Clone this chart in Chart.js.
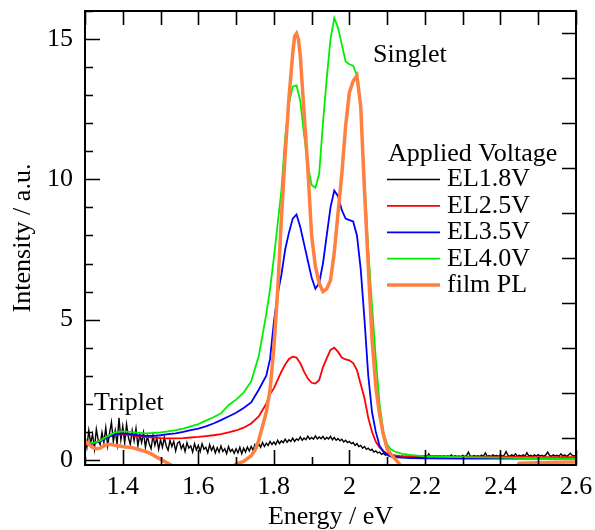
<!DOCTYPE html>
<html>
<head>
<meta charset="utf-8">
<script src="https://cdn.jsdelivr.net/npm/chart.js@4.4.1/dist/chart.umd.min.js"></script>
<style>
  body { margin: 0; background: #fff; }
  canvas { display: block; }
</style>
</head>
<body>
<canvas id="elChart" width="595" height="530"></canvas>
<script>
// --- data ---
const seriesLabels = ['EL1.8V', 'EL2.5V', 'EL3.5V', 'EL4.0V', 'film PL'];

// EL1.8V (noisy) sampled every 0.005 eV from 1.30 to 2.60
const el18Start = 1.3;
const el18Step = 0.005;
const el18Values = [
  0.85, 0.45, 1.05, 0.60, 0.92, 0.40, 1.10, 0.70, 0.55, 0.98,
  0.62, 1.15, 0.50, 0.95, 1.35, 0.65, 1.05, 0.55, 1.50, 0.72,
  1.20, 0.60, 1.28, 0.80, 0.55, 1.05, 0.68, 1.12, 0.50, 0.90,
  0.62, 0.98, 0.45, 0.85, 0.58, 0.40, 0.88, 0.52, 0.78, 0.38,
  0.72, 0.45, 0.80, 0.50, 0.35, 0.70, 0.48, 0.66, 0.32, 0.60,
  0.65, 0.40, 0.55, 0.30, 0.62, 0.42, 0.50, 0.28, 0.58, 0.36,
  0.52, 0.30, 0.58, 0.38, 0.45, 0.26, 0.55, 0.34, 0.48, 0.25,
  0.44, 0.28, 0.50, 0.30, 0.40, 0.22, 0.48, 0.30, 0.38, 0.24,
  0.40, 0.25, 0.45, 0.22, 0.42, 0.28, 0.46, 0.32, 0.48, 0.35,
  0.55, 0.42, 0.58, 0.45, 0.62, 0.48, 0.60, 0.52, 0.66, 0.55,
  0.64, 0.55, 0.70, 0.58, 0.68, 0.62, 0.74, 0.63, 0.72, 0.66,
  0.78, 0.66, 0.75, 0.70, 0.82, 0.70, 0.78, 0.72, 0.85, 0.74,
  0.80, 0.74, 0.86, 0.75, 0.82, 0.76, 0.84, 0.73, 0.80, 0.75,
  0.84, 0.72, 0.80, 0.70, 0.76, 0.68, 0.74, 0.64, 0.70, 0.62,
  0.66, 0.58, 0.62, 0.52, 0.58, 0.48, 0.52, 0.42, 0.48, 0.38,
  0.42, 0.34, 0.38, 0.28, 0.32, 0.25, 0.28, 0.20, 0.24, 0.17,
  0.22, 0.15, 0.18, 0.12, 0.16, 0.10, 0.15, 0.09, 0.14, 0.10,
  0.13, 0.09, 0.14, 0.10, 0.12, 0.08, 0.13, 0.10, 0.12, 0.09,
  0.14, 0.10, 0.22, 0.11, 0.13, 0.10, 0.15, 0.11, 0.14, 0.10,
  0.15, 0.11, 0.14, 0.12, 0.18, 0.11, 0.15, 0.12, 0.14, 0.11,
  0.16, 0.12, 0.15, 0.28, 0.14, 0.12, 0.16, 0.13, 0.15, 0.12,
  0.17, 0.13, 0.25, 0.13, 0.16, 0.12, 0.18, 0.14, 0.16, 0.13,
  0.18, 0.14, 0.17, 0.30, 0.16, 0.13, 0.18, 0.14, 0.22, 0.13,
  0.17, 0.14, 0.18, 0.13, 0.26, 0.14, 0.17, 0.13, 0.18, 0.14,
  0.19, 0.14, 0.17, 0.13, 0.18, 0.28, 0.16, 0.13, 0.18, 0.14,
  0.17, 0.13, 0.22, 0.14, 0.18, 0.13, 0.17, 0.24, 0.16, 0.14,
  0.17
];

// shared energy grid for EL2.5V / EL3.5V / EL4.0V
const elEnergy = [
  1.30, 1.32, 1.34, 1.36, 1.38, 1.40, 1.42, 1.44, 1.46, 1.48,
  1.50, 1.52, 1.54, 1.56, 1.58, 1.60, 1.62, 1.64, 1.66, 1.68,
  1.70, 1.72, 1.74, 1.76, 1.78, 1.79, 1.80, 1.81, 1.82, 1.83,
  1.84, 1.85, 1.86, 1.87, 1.88, 1.89, 1.90, 1.91, 1.92, 1.93,
  1.94, 1.95, 1.96, 1.97, 1.98, 1.99, 2.00, 2.01, 2.02, 2.03,
  2.04, 2.05, 2.06, 2.07, 2.08, 2.09, 2.10, 2.11, 2.12, 2.14,
  2.16, 2.20, 2.30, 2.40, 2.50, 2.60
];
const el25Values = [
  0.55, 0.58, 0.70, 0.85, 0.90, 0.90, 0.88, 0.85, 0.82, 0.80,
  0.78, 0.77, 0.77, 0.78, 0.80, 0.82, 0.85, 0.88, 0.92, 0.98,
  1.05, 1.15, 1.30, 1.55, 2.00, 2.35, 2.55, 2.85, 3.15, 3.40,
  3.60, 3.68, 3.65, 3.45, 3.15, 2.90, 2.75, 2.72, 2.85, 3.30,
  3.62, 3.92, 4.00, 3.85, 3.65, 3.58, 3.55, 3.45, 3.20, 2.70,
  2.20, 1.50, 1.00, 0.65, 0.45, 0.32, 0.22, 0.18, 0.16, 0.13,
  0.13, 0.14, 0.12, 0.12, 0.10, 0.10
];
const el35Values = [
  0.62, 0.58, 0.66, 0.80, 0.92, 0.95, 0.92, 0.88, 0.86, 0.86,
  0.88, 0.92, 0.95, 1.00, 1.06, 1.12, 1.20, 1.30, 1.42, 1.55,
  1.68, 1.85, 2.05, 2.50, 3.00, 3.60, 4.90, 5.90, 6.60, 7.50,
  8.10, 8.60, 8.75, 8.30, 7.70, 7.10, 6.50, 6.10, 6.30, 7.00,
  8.00, 9.00, 9.60, 9.40, 8.90, 8.60, 8.55, 8.50, 8.00, 6.80,
  5.00, 3.00, 1.70, 1.00, 0.50, 0.30, 0.18, 0.12, 0.10, 0.08,
  0.07, 0.06, 0.05, 0.05, 0.05, 0.05
];
const el40Values = [
  0.65, 0.60, 0.68, 0.85, 0.98, 1.02, 1.00, 0.97, 0.95, 0.96,
  0.98, 1.02, 1.06, 1.12, 1.20, 1.28, 1.40, 1.52, 1.66, 1.95,
  2.15, 2.40, 2.80, 3.70, 5.20, 6.10, 7.20, 8.40, 9.60, 11.5,
  12.7, 13.3, 13.35, 12.8, 11.6, 10.5, 9.80, 9.70, 10.2, 12.0,
  13.6, 15.0, 15.75, 15.4, 14.8, 14.2, 14.1, 14.05, 13.7, 12.5,
  10.0, 7.50, 5.50, 3.60, 2.00, 1.00, 0.55, 0.38, 0.30, 0.22,
  0.18, 0.13, 0.10, 0.08, 0.06, 0.05
];

// film PL, own energy grid
const plEnergy = [
  1.30, 1.31, 1.32, 1.33, 1.34, 1.35, 1.36, 1.37, 1.38, 1.39,
  1.40, 1.41, 1.42, 1.43, 1.44, 1.45, 1.46, 1.47, 1.48, 1.49,
  1.50, 1.51, 1.52, 1.53, 1.55, 1.60, 1.65, 1.68, 1.70, 1.72,
  1.73, 1.74, 1.75, 1.76, 1.77, 1.78, 1.79, 1.80, 1.81, 1.82,
  1.83, 1.84, 1.85, 1.855, 1.86, 1.865, 1.87, 1.88, 1.89, 1.90,
  1.91, 1.92, 1.93, 1.94, 1.95, 1.96, 1.97, 1.98, 1.99, 2.00,
  2.01, 2.02, 2.03, 2.04, 2.05, 2.06, 2.07, 2.08, 2.09, 2.10,
  2.11, 2.12, 2.13, 2.14, 2.20, 2.30, 2.40, 2.44, 2.45, 2.50,
  2.55, 2.60
];
const plValues = [
  0.68, 0.55, 0.45, 0.40, 0.42, 0.50, 0.55, 0.55, 0.52, 0.50,
  0.48, 0.46, 0.45, 0.42, 0.38, 0.34, 0.30, 0.25, 0.18, 0.10,
  0.03, -0.05, -0.12, -0.20, -0.35, -0.50, -0.50, -0.35, -0.15, -0.05,
  0.05, 0.15, 0.35, 0.70, 1.20, 1.70, 2.50, 4.00, 6.00, 8.60,
  10.9, 12.9, 14.5, 15.1, 15.2, 15.0, 14.4, 12.4, 10.4, 8.00,
  6.90, 6.30, 6.00, 6.10, 6.40, 7.40, 8.80, 10.2, 11.9, 13.1,
  13.5, 13.7, 12.6, 9.60, 6.90, 4.30, 2.60, 1.60, 0.90, 0.40,
  0.20, 0.05, -0.10, -0.30, -0.50, -0.50, -0.40, -0.30, -0.12, -0.10,
  -0.08, -0.07
];

const seriesColors = ['#000000', '#ff0000', '#0000ff', '#00ee00', '#ff8040'];
const seriesWidths = [1.4, 1.8, 1.8, 1.8, 3.5];
const seriesOrder = [5, 4, 3, 2, 1]; // black underneath, film PL on top

// axis ticks
const xTickLabels = [1.4, 1.6, 1.8, 2.0, 2.2, 2.4, 2.6];
const xMinorTicks = [1.3, 1.5, 1.7, 1.9, 2.1, 2.3, 2.5];
const yTickLabels = [0, 5, 10, 15];
const yMinorTicks = [1, 2, 3, 4, 6, 7, 8, 9, 11, 12, 13, 14, 16];
const yRightTicks = [0.8, 2.4, 4.0, 5.6, 7.2, 8.8, 10.4, 12.0, 13.6, 15.2];

const FONT = '"Liberation Serif", "Times New Roman", serif';

function toPoints(xs, ys) {
  return ys.map((y, i) => ({ x: xs[i], y: y }));
}
const el18Energy = el18Values.map((_, i) => +(el18Start + i * el18Step).toFixed(3));

const seriesData = [
  toPoints(el18Energy, el18Values),
  toPoints(elEnergy, el25Values),
  toPoints(elEnergy, el35Values),
  toPoints(elEnergy, el40Values),
  toPoints(plEnergy, plValues)
];

// scales keep no extra label padding, so the plot box sits where the figure has it
function noPadding(scale) {
  scale.paddingTop = 0;
  scale.paddingBottom = 0;
  scale.paddingLeft = 0;
  scale.paddingRight = 0;
}

// inward ticks + frame + legend + annotations
const framePlugin = {
  id: 'frame',
  afterDraw(chart) {
    const ctx = chart.ctx;
    const area = chart.chartArea;
    const xs = chart.scales.x;
    const ys = chart.scales.y;
    ctx.save();
    ctx.strokeStyle = '#000';
    ctx.lineWidth = 1.6;
    ctx.beginPath();
    const allX = xTickLabels.concat(xMinorTicks);
    allX.forEach(v => {
      const px = Math.round(xs.getPixelForValue(v)) + 0.5;
      const len = xTickLabels.includes(v) ? 15 : 8;
      ctx.moveTo(px, area.bottom);
      ctx.lineTo(px, area.bottom - len);
      ctx.moveTo(px, area.top);
      ctx.lineTo(px, area.top + 14);
    });
    yTickLabels.forEach(v => {
      const py = Math.round(ys.getPixelForValue(v)) + 0.5;
      ctx.moveTo(area.left, py);
      ctx.lineTo(area.left + 15, py);
    });
    yMinorTicks.forEach(v => {
      const py = Math.round(ys.getPixelForValue(v)) + 0.5;
      ctx.moveTo(area.left, py);
      ctx.lineTo(area.left + 8, py);
    });
    yRightTicks.forEach(v => {
      const py = Math.round(ys.getPixelForValue(v)) + 0.5;
      ctx.moveTo(area.right, py);
      ctx.lineTo(area.right - 14, py);
    });
    ctx.stroke();
    ctx.lineWidth = 2;
    ctx.strokeRect(area.left, area.top, area.right - area.left, area.bottom - area.top);

    // text labels
    ctx.fillStyle = '#000';
    ctx.font = '26px ' + FONT;
    ctx.textBaseline = 'middle';
    ctx.textAlign = 'left';
    ctx.fillText('Singlet', 373, 55);
    ctx.fillText('Triplet', 94, 403);

    // legend
    ctx.fillText('Applied Voltage', 388, 154);
    chart.data.datasets.forEach((ds, i) => {
      const y = 179.5 + i * 26.4;
      ctx.strokeStyle = ds.borderColor;
      ctx.lineWidth = ds.borderWidth;
      ctx.beginPath();
      ctx.moveTo(387, y);
      ctx.lineTo(440, y);
      ctx.stroke();
      ctx.fillText(ds.label, 447, y);
    });
    ctx.restore();
  }
};

const datasets = seriesLabels.map((label, i) => ({
  label: label,
  data: seriesData[i],
  borderColor: seriesColors[i],
  borderWidth: seriesWidths[i],
  order: seriesOrder[i],
  pointRadius: 0,
  fill: false,
  tension: 0
}));

new Chart(document.getElementById('elChart'), {
  type: 'line',
  data: { datasets: datasets },
  options: {
    responsive: false,
    animation: false,
    layout: { padding: { top: 11, right: 19, left: 0, bottom: 0 } },
    plugins: {
      legend: { display: false },
      tooltip: { enabled: false }
    },
    scales: {
      x: {
        type: 'linear',
        min: 1.3,
        max: 2.6,
        afterBuildTicks: scale => { scale.ticks = xTickLabels.map(v => ({ value: v })); },
        afterFit: scale => { scale.height = 65; noPadding(scale); },
        grid: { display: false, drawTicks: false },
        border: { display: false },
        ticks: {
          color: '#000',
          padding: 7,
          maxRotation: 0,
          font: { family: FONT, size: 26 },
          callback: v => String(+Number(v).toFixed(1))
        },
        title: {
          display: true,
          text: 'Energy / eV',
          color: '#000',
          font: { family: FONT, size: 26 },
          padding: { top: 0, bottom: -3 }
        }
      },
      y: {
        type: 'linear',
        min: -0.18,
        max: 16,
        afterBuildTicks: scale => { scale.ticks = yTickLabels.map(v => ({ value: v })); },
        afterFit: scale => { scale.width = 85; noPadding(scale); },
        grid: { display: false, drawTicks: false },
        border: { display: false },
        ticks: {
          color: '#000',
          padding: 12,
          font: { family: FONT, size: 26 }
        },
        title: {
          display: true,
          text: 'Intensity / a.u.',
          color: '#000',
          font: { family: FONT, size: 26 },
          padding: { top: 8, bottom: 0 }
        }
      }
    }
  },
  plugins: [framePlugin]
});
</script>
</body>
</html>
